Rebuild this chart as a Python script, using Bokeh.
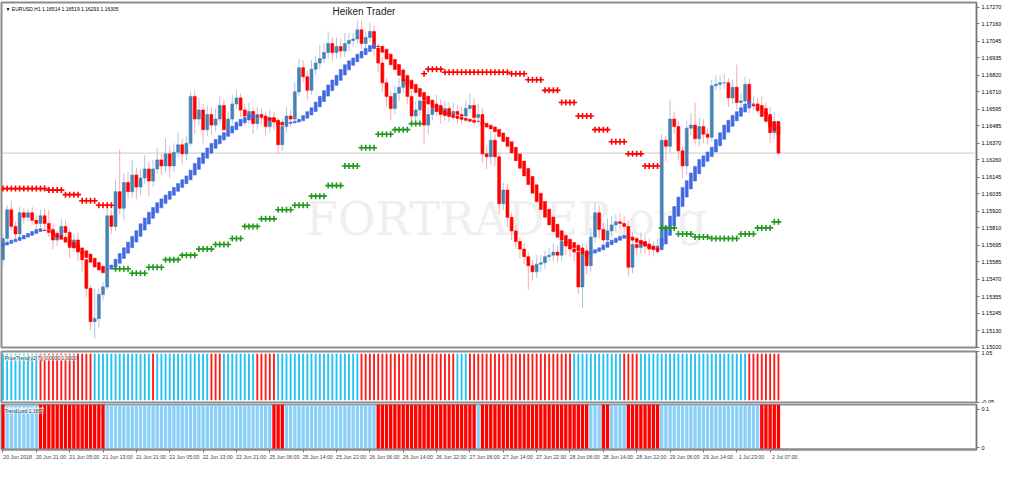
import numpy as np
from bokeh.plotting import figure
from bokeh.models import Range1d, FixedTicker, NumeralTickFormatter, Label, Span
from bokeh.layouts import column
from bokeh.embed import file_html
from bokeh.resources import INLINE

# ---------------- data (EURUSD H1) ----------------
first_open = 1.1560
closes = [1.1574, 1.1593, 1.1582, 1.1577, 1.1591, 1.1588, 1.1591, 1.1586, 1.1584, 1.1589,
          1.1584, 1.1580, 1.1573, 1.1576, 1.1582, 1.1578, 1.1568, 1.1573, 1.1565, 1.1560,
          1.1541, 1.1519, 1.1521, 1.1537, 1.1542, 1.1589, 1.1582, 1.1605, 1.1594, 1.1611,
          1.1605, 1.1616, 1.1608, 1.1614, 1.1620, 1.1612, 1.1620, 1.1626, 1.1622, 1.1630,
          1.1622, 1.1631, 1.1636, 1.1630, 1.1637, 1.1668, 1.1653, 1.1659, 1.1646, 1.1656,
          1.1649, 1.1653, 1.1662, 1.1646, 1.1653, 1.1663, 1.1667, 1.1659, 1.1655, 1.1658,
          1.1650, 1.1656, 1.1655, 1.1648, 1.1654, 1.1651, 1.1636, 1.1648, 1.1655, 1.1653,
          1.1671, 1.1687, 1.1681, 1.1672, 1.1686, 1.1690, 1.1693, 1.1697, 1.1703, 1.1697,
          1.1701, 1.1698, 1.1703, 1.1705, 1.1706, 1.1712, 1.1703, 1.1707, 1.1711, 1.1700,
          1.1690, 1.1677, 1.1668, 1.1660, 1.1670, 1.1674, 1.1679, 1.1668, 1.1655, 1.1659,
          1.1665, 1.1649, 1.1656, 1.1660, 1.1662, 1.1656, 1.1660, 1.1656, 1.1658, 1.1656,
          1.1655, 1.1660, 1.1662, 1.1654, 1.1656, 1.1630, 1.1628, 1.1639, 1.1628, 1.1597,
          1.1606, 1.1588, 1.1579, 1.1572, 1.1567, 1.1562, 1.1556, 1.1552, 1.1557, 1.1558,
          1.1562, 1.1563, 1.1565, 1.1563, 1.1572, 1.1569, 1.1567, 1.1565, 1.1542, 1.1565,
          1.1556, 1.1575, 1.1591, 1.1580, 1.1573, 1.1579, 1.1583, 1.1585, 1.1584, 1.1582,
          1.1555, 1.1570, 1.1568, 1.1572, 1.1569, 1.1567, 1.1568, 1.1569, 1.1639, 1.1635,
          1.1653, 1.1648, 1.1632, 1.1622, 1.1647, 1.1649, 1.1640, 1.1648, 1.1643, 1.1641,
          1.1675, 1.1676, 1.1677, 1.1677, 1.1667, 1.1674, 1.1664, 1.1665, 1.1676, 1.1663,
          1.1663, 1.1662, 1.1660, 1.1656, 1.1644, 1.16514, 1.16305]
upper_wick_pips = [3, 3, 6, 3, 4, 3, 3, 4, 3, 4,
                   5, 9, 4, 3, 5, 4, 3, 4, 5, 3,
                   3, 2, 20, 4, 3, 6, 4, 8, 28, 6,
                   7, 10, 5, 6, 9, 5, 6, 8, 4, 10,
                   5, 6, 8, 4, 5, 3, 4, 8, 4, 6,
                   5, 7, 6, 4, 5, 6, 5, 3, 4, 6,
                   3, 5, 4, 3, 5, 4, 3, 5, 6, 4,
                   6, 6, 5, 4, 6, 5, 9, 6, 8, 4,
                   6, 5, 7, 5, 4, 6, 6, 4, 6, 4,
                   3, 4, 3, 4, 5, 6, 8, 3, 4, 6,
                   7, 4, 5, 6, 7, 4, 5, 4, 6, 4,
                   5, 6, 8, 5, 7, 4, 5, 6, 4, 3,
                   5, 4, 3, 4, 3, 4, 3, 4, 6, 5,
                   4, 5, 6, 4, 7, 4, 5, 4, 5, 6,
                   5, 6, 7, 5, 4, 8, 6, 5, 6, 5,
                   4, 8, 5, 6, 4, 5, 4, 5, 4, 3,
                   13, 5, 4, 3, 5, 8, 15, 6, 5, 4,
                   4, 6, 5, 6, 3, 5, 15, 5, 5, 4,
                   5, 4, 6, 4, 5, 6, 0.5]
lower_wick_pips = [4, 2, 3, 4, 3, 4, 3, 3, 4, 3,
                   4, 5, 6, 4, 3, 6, 7, 3, 6, 8,
                   6, 6, 11, 6, 4, 2, 5, 3, 4, 8,
                   5, 4, 8, 5, 4, 10, 4, 3, 6, 4,
                   8, 4, 3, 7, 4, 2, 10, 4, 9, 4,
                   6, 4, 3, 8, 4, 3, 3, 5, 6, 5,
                   7, 4, 5, 6, 4, 5, 6, 4, 4, 5,
                   3, 3, 4, 6, 3, 4, 4, 3, 4, 6,
                   4, 5, 4, 5, 4, 3, 4, 5, 3, 5,
                   6, 6, 7, 8, 4, 5, 4, 5, 6, 5,
                   4, 13, 6, 4, 5, 6, 4, 5, 4, 6,
                   5, 4, 3, 5, 4, 6, 8, 5, 6, 7,
                   4, 6, 6, 5, 6, 5, 16, 6, 4, 5,
                   4, 3, 4, 5, 4, 6, 5, 6, 5, 14,
                   6, 4, 4, 6, 7, 4, 4, 5, 4, 5,
                   6, 4, 5, 4, 5, 4, 5, 4, 3, 10,
                   4, 5, 6, 8, 6, 5, 4, 5, 6, 5,
                   3, 3, 4, 4, 6, 4, 5, 6, 4, 6,
                   4, 5, 4, 6, 7, 4, 1.2]

ha_first_open = 1.15690
ha_closes = [1.15704, 1.15716, 1.15729, 1.15735, 1.15748, 1.15761, 1.15773, 1.15786, 1.15799, 1.15805,
             1.15792, 1.15780, 1.15761, 1.15748, 1.15735, 1.15716, 1.15697, 1.15678, 1.15659, 1.15640,
             1.15615, 1.15583, 1.15551, 1.15532, 1.15513, 1.15539, 1.15564, 1.15602, 1.15640, 1.15678,
             1.15716, 1.15754, 1.15792, 1.15837, 1.15875, 1.15913, 1.15945, 1.15976, 1.16002, 1.16027,
             1.16052, 1.16078, 1.16103, 1.16128, 1.16154, 1.16192, 1.16236, 1.16274, 1.16306, 1.16338,
             1.16369, 1.16395, 1.16420, 1.16439, 1.16458, 1.16483, 1.16509, 1.16528, 1.16541, 1.16553,
             1.16560, 1.16547, 1.16541, 1.16528, 1.16522, 1.16515, 1.16496, 1.16490, 1.16503, 1.16509,
             1.16515, 1.16528, 1.16553, 1.16579, 1.16604, 1.16642, 1.16680, 1.16718, 1.16756, 1.16788,
             1.16819, 1.16858, 1.16889, 1.16915, 1.16934, 1.16959, 1.16978, 1.16997, 1.17016, 1.17029,
             1.17010, 1.16972, 1.16927, 1.16889, 1.16858, 1.16819, 1.16782, 1.16756, 1.16731, 1.16705,
             1.16680, 1.16655, 1.16629, 1.16604, 1.16579, 1.16566, 1.16553, 1.16547, 1.16541, 1.16534,
             1.16528, 1.16522, 1.16515, 1.16509, 1.16515, 1.16490, 1.16477, 1.16465, 1.16446, 1.16414,
             1.16382, 1.16350, 1.16306, 1.16255, 1.16205, 1.16154, 1.16097, 1.16040, 1.15983, 1.15932,
             1.15881, 1.15830, 1.15786, 1.15748, 1.15729, 1.15710, 1.15691, 1.15678, 1.15659, 1.15640,
             1.15621, 1.15647, 1.15666, 1.15678, 1.15697, 1.15716, 1.15729, 1.15742, 1.15754, 1.15761,
             1.15748, 1.15729, 1.15716, 1.15704, 1.15691, 1.15678, 1.15666, 1.15653, 1.15742, 1.15818,
             1.15888, 1.15951, 1.16014, 1.16078, 1.16122, 1.16173, 1.16217, 1.16262, 1.16287, 1.16312,
             1.16344, 1.16395, 1.16439, 1.16490, 1.16522, 1.16554, 1.16579, 1.16604, 1.16629, 1.16648,
             1.16617, 1.16585, 1.16547, 1.16515, 1.16477, 1.16452, 1.16426]

# trailing stop levels: runs of bars (start, end, price)
red_start = [0, 11, 15, 19, 23, 101, 102, 106, 122, 126, 130, 134, 138, 142, 146, 150, 154]
red_end   = [10, 14, 18, 22, 26, 101, 105, 121, 125, 129, 133, 137, 141, 145, 149, 153, 157]
red_level = [1.1607, 1.1606, 1.1603, 1.1599, 1.1596, 1.1683, 1.1686, 1.1684, 1.1683, 1.1679,
             1.1672, 1.1664, 1.1655, 1.1646, 1.1638, 1.1630, 1.1622]
green_start = [27, 31, 35, 39, 43, 47, 51, 55, 58, 62, 66, 70, 74, 78, 82, 86, 90, 94, 98,
               158, 162, 166, 170, 177, 181, 185]
green_end   = [30, 34, 38, 42, 46, 50, 54, 57, 61, 65, 69, 73, 77, 81, 85, 89, 93, 97, 100,
               161, 165, 169, 176, 180, 184, 186]
green_level = [1.1554, 1.1551, 1.1555, 1.1560, 1.1563, 1.1567, 1.1570, 1.1574, 1.1582, 1.1587,
               1.1593, 1.1596, 1.1602, 1.1609, 1.1622, 1.1634, 1.1643, 1.1646, 1.1650,
               1.1581, 1.1577, 1.1575, 1.1574, 1.1577, 1.1581, 1.1585]

# indicator sub-windows: runs of "down" (red) bars
pt_red_start = [9, 36, 50, 61, 86, 112, 149, 179]
pt_red_end   = [21, 36, 52, 65, 108, 136, 152, 186]
tl_red_start = [0, 9, 65, 90, 115, 144, 150, 182]
tl_red_end   = [0, 24, 67, 113, 140, 145, 157, 186]

main_ticks = [1.17270, 1.17160, 1.17045, 1.16935, 1.16820, 1.16710, 1.16595, 1.16485, 1.16370,
              1.16260, 1.16145, 1.16035, 1.15920, 1.15810, 1.15695, 1.15585, 1.15470, 1.15355,
              1.15245, 1.15130, 1.15020]
time_tick_bars = list(range(0, 185, 8))
time_labels = ["20 Jun 2018", "20 Jun 21:00", "21 Jun 05:00", "21 Jun 13:00", "21 Jun 21:00",
               "22 Jun 05:00", "22 Jun 13:00", "22 Jun 21:00", "25 Jun 06:00", "25 Jun 14:00",
               "25 Jun 22:00", "26 Jun 06:00", "26 Jun 14:00", "26 Jun 22:00", "27 Jun 06:00",
               "27 Jun 14:00", "27 Jun 22:00", "28 Jun 06:00", "28 Jun 14:00", "28 Jun 22:00",
               "29 Jun 06:00", "29 Jun 14:00", "1 Jul 23:00", "2 Jul 07:00"]
last_price = 1.16305
header = "\u25BC EURUSD,H1  1.16514 1.16519 1.16293 1.16305"

# ---------------- derived ----------------
n = len(closes)
idx = np.arange(n)
c = np.array(closes)
o = np.array([first_open] + closes[:-1])
hi = np.maximum(o, c) + np.array(upper_wick_pips) * 1e-4
lo = np.minimum(o, c) - np.array(lower_wick_pips) * 1e-4
up = c >= o
body_col = np.where(up, "#4682B4", "#FF0000")
wick_col = np.where(up, "#AFC6E0", "#FFA8A8")

# Heiken Ashi body: open is the midpoint of the previous HA body
hc = np.array(ha_closes)
ho = np.empty(n)
ho[0] = ha_first_open
for i in range(1, n):
    ho[i] = (ho[i - 1] + hc[i - 1]) / 2
ha_col = np.where(hc >= ho, "#4169E1", "#FF0000")

def expand(starts, ends, levels=None):
    xs, ys = [], []
    for k, (s, e) in enumerate(zip(starts, ends)):
        for b in range(s, e + 1):
            xs.append(b)
            ys.append(levels[k] if levels is not None else 1)
    return xs, ys

rx, ry = expand(red_start, red_end, red_level)
gx, gy = expand(green_start, green_end, green_level)
pt_red, _ = expand(pt_red_start, pt_red_end)
tl_red, _ = expand(tl_red_start, tl_red_end)
pt_col = ["#FF1A1A" if i in pt_red else "#22C2F5" for i in idx]
tl_col = ["#FF0000" if i in tl_red else "#8CCFF9" for i in idx]

# ---------------- layout ----------------
FW = 975
FONT = "Liberation Sans"
xr = Range1d(-0.35, 233.5)
LABEL_SHIFT = 3.5   # time labels start at their tick (MT4 style): shift centre right


def mk(fh, top, bottom, yr, with_x):
    p = figure(frame_width=FW, frame_height=fh, x_range=xr, y_range=yr,
               output_backend="svg", toolbar_location=None,
               y_axis_location="right", x_axis_location="below" if with_x else None,
               min_border_left=1, min_border_right=29, min_border_top=top,
               min_border_bottom=bottom, outline_line_color="#8C8C8C",
               outline_line_width=2, background_fill_color="white",
               border_fill_color="white")
    p.grid.visible = False
    for ax in p.yaxis:
        ax.axis_line_color = "#777777"
        ax.major_tick_line_color = "#777777"
        ax.major_tick_out = 3
        ax.major_tick_in = 0
        ax.minor_tick_line_color = None
        ax.major_label_text_font = FONT
        ax.major_label_text_font_size = "5.5px"
        ax.major_label_text_color = "#000000"
        ax.major_label_standoff = 2
    return p


# main price window
p1 = mk(345, 2, 3, Range1d(1.15019, 1.17301), False)
p1.yaxis[0].ticker = FixedTicker(ticks=main_ticks)
p1.yaxis[0].formatter = NumeralTickFormatter(format="0.00000")

p1.add_layout(Label(x=120.7, y=1.15868, text="FORTRADER.org", text_font="DejaVu Serif",
                    text_font_size="46px", text_color="#EFEFEF", text_align="center",
                    text_baseline="middle", level="underlay"))
p1.add_layout(Span(location=last_price, dimension="width", line_color="#C8C8C8",
                   line_width=1, level="underlay"))

p1.segment(x0=idx, y0=lo, x1=idx, y1=hi, line_color=wick_col, line_width=1)
p1.vbar(x=idx, width=0.7, top=np.maximum(o, c), bottom=np.minimum(o, c),
        fill_color=body_col, line_color=body_col, line_width=0.6)
p1.vbar(x=idx, width=0.7, top=np.maximum(ho, hc), bottom=np.minimum(ho, hc),
        fill_color=ha_col, line_color=ha_col, line_width=0.6)
p1.scatter(x=rx, y=ry, marker="cross", size=6, line_color="#FF0000", line_width=1.6)
p1.scatter(x=gx, y=gy, marker="cross", size=6, line_color="#1F9A1F", line_width=1.6)

p1.add_layout(Label(x=xr.start, y=1.17301, x_offset=4, y_offset=-3, text=header,
                    text_font=FONT, text_font_size="5px", text_color="#000000",
                    text_baseline="top"))
p1.add_layout(Label(x=86.6, y=1.17301, y_offset=-3, text="Heiken Trader",
                    text_font=FONT, text_font_size="10px", text_color="#222222",
                    text_align="center", text_baseline="top"))
p1.add_layout(Label(x=xr.end, y=last_price, x_offset=1, text="1.16305",
                    text_font=FONT, text_font_size="5.5px", text_color="white",
                    background_fill_color="black", text_baseline="middle"))

# PriceTrend window
p2 = mk(51, 1, 1, Range1d(-0.05, 1.05), False)
p2.yaxis[0].ticker = FixedTicker(ticks=[-0.05, 1.05])
p2.yaxis[0].major_label_overrides = {-0.05: "-0.05", 1.05: "1.05"}
p2.vbar(x=idx, width=0.45, top=1, bottom=0, fill_color=pt_col, line_color=None)
p2.add_layout(Label(x=xr.start, y=1.05, x_offset=3, y_offset=-3,
                    text="PriceTrend(v2(7)) 0.0000 1.0000", text_font=FONT,
                    text_font_size="5px", text_color="#333333", text_baseline="top",
                    background_fill_color="white", background_fill_alpha=0.7))

# TrendLord window
yr3 = Range1d(-0.004, 0.112)
p3 = mk(45, 1, 0, yr3, True)
p3.yaxis[0].ticker = FixedTicker(ticks=[0, 0.1])
p3.yaxis[0].major_label_overrides = {0: "0", 0.1: "0.1"}
p3.vbar(x=idx, width=0.8, top=yr3.end, bottom=yr3.start, fill_color=tl_col, line_color=None)
p3.add_layout(Label(x=xr.start, y=yr3.end, x_offset=3, y_offset=-3,
                    text="TrendLord 1.1650", text_font=FONT, text_font_size="5px",
                    text_color="#333333", text_baseline="top",
                    background_fill_color="white", background_fill_alpha=0.6))
xa = p3.xaxis[0]
label_pos = [b + LABEL_SHIFT for b in time_tick_bars]
xa.ticker = FixedTicker(ticks=label_pos, minor_ticks=time_tick_bars)
xa.major_label_overrides = {lp: t for lp, t in zip(label_pos, time_labels)}
xa.major_label_text_font = FONT
xa.major_label_text_font_size = "5.2px"
xa.major_label_standoff = 1
xa.axis_line_color = "#8C8C8C"
xa.axis_line_width = 2
xa.major_tick_line_color = None
xa.major_tick_out = 3
xa.minor_tick_line_color = "#777777"
xa.minor_tick_out = 3
xa.minor_tick_in = 0

layout = column(p1, p2, p3)
open("out.html", "w").write(file_html(layout, INLINE))
